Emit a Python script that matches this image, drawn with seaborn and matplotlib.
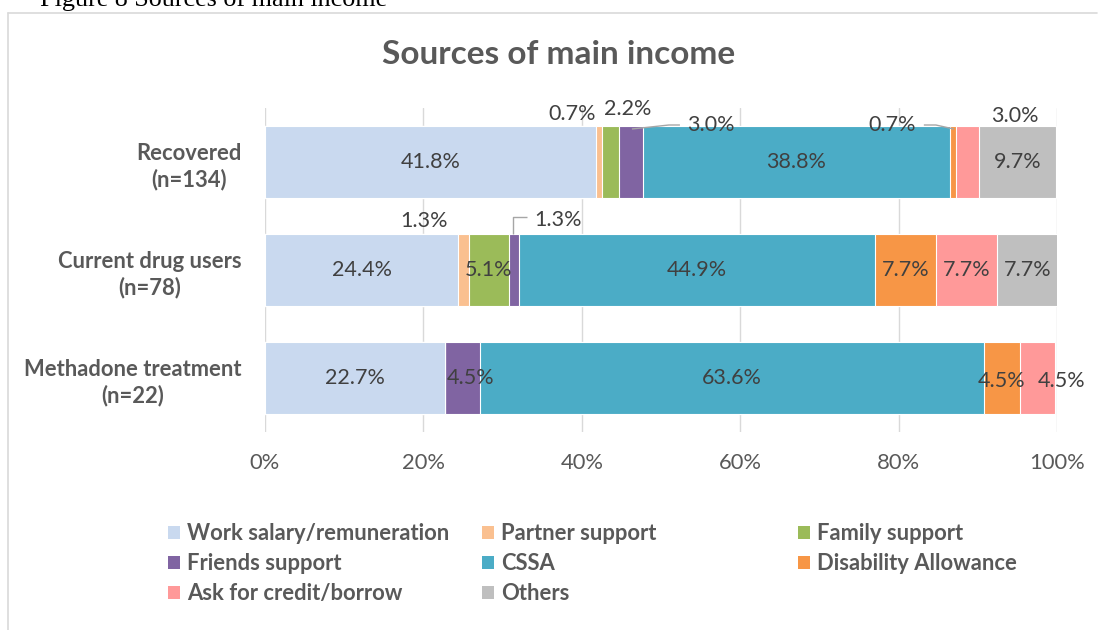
import matplotlib
matplotlib.use("Agg")
import matplotlib.pyplot as plt
from matplotlib.lines import Line2D
from matplotlib.patches import Patch
import numpy as np
import pandas as pd
import seaborn as sns

# ---- data -----------------------------------------------------------------
groups = ["Recovered\n(n=134)", "Current drug users\n(n=78)", "Methadone treatment\n(n=22)"]
sources = ["Work salary/remuneration", "Partner support", "Family support",
           "Friends support", "CSSA", "Disability Allowance",
           "Ask for credit/borrow", "Others"]
work = [41.8, 24.4, 22.7]
partner = [0.7, 1.3, 0.0]
family = [2.2, 5.1, 0.0]
friends = [3.0, 1.3, 4.5]
cssa = [38.8, 44.9, 63.6]
disability = [0.7, 7.7, 4.5]
borrow = [3.0, 7.7, 4.5]
others = [9.7, 7.7, 0.0]
x_ticks = [0, 20, 40, 60, 80, 100]
x_tick_labels = ["0%", "20%", "40%", "60%", "80%", "100%"]

colors = ["#C9D9EF", "#FAC090", "#9BBB59", "#8064A2",
          "#4BACC6", "#F79646", "#FF9999", "#BFBFBF"]

series = [work, partner, family, friends, cssa, disability, borrow, others]
df = pd.DataFrame(np.array(series).T, columns=sources)
df.insert(0, "group", groups)
cum = df[sources].cumsum(axis=1)

# ---- style ----------------------------------------------------------------
sns.set_theme(style="white")
plt.rcParams["font.family"] = ["Lato", "DejaVu Sans"]
TXT = "#595959"
LBL = "#404040"
GRID = "#D9D9D9"
FS = 15.8

W, H = 1098, 630
fig = plt.figure(figsize=(W / 100, H / 100), dpi=100)

ax_l, ax_r, ax_t, ax_b = 265, 1057, 108, 432
ax = fig.add_axes([ax_l / W, 1 - ax_b / H, (ax_r - ax_l) / W, (ax_b - ax_t) / H])

# stacked bars: draw cumulative totals from the outermost segment inwards
for i in range(len(sources) - 1, -1, -1):
    plot_df = pd.DataFrame({"group": groups, "total": cum[sources[i]].values})
    sns.barplot(data=plot_df, x="total", y="group", order=groups, orient="h",
                color=colors[i], saturation=1, width=0.66, errorbar=None,
                edgecolor="white", linewidth=0.8, ax=ax, zorder=3)

ax.set_xlim(0, 100)
ax.set_ylim(2.5, -0.5)
ax.set_xticks(x_ticks)
ax.set_xticklabels(x_tick_labels)
ax.set_xlabel("")
ax.set_ylabel("")
ax.grid(axis="x", color=GRID, linewidth=1, zorder=0)
ax.grid(axis="y", visible=False)
for s in ax.spines.values():
    s.set_visible(False)
ax.tick_params(axis="x", length=0, pad=15, labelsize=FS, labelcolor=TXT)
ax.tick_params(axis="y", length=0, pad=17, labelsize=FS, labelcolor=TXT)
for t in ax.get_yticklabels():
    t.set_fontweight("bold")
    t.set_multialignment("center")
    t.set_linespacing(1.3)

# pixel -> data conversion for label offsets
px_x = (ax_r - ax_l) / 100.0
px_y = (ax_b - ax_t) / 3.0

# label offsets (pixels, right/down) for small segments
offsets = {
    (0, 1): (-27, -48), (0, 2): (17, -53), (0, 3): (80, -37),
    (0, 5): (-61, -37), (0, 6): (47, -46),
    (1, 1): (-39, -49), (1, 3): (44, -50),
    (2, 3): (8, 0), (2, 5): (0, 3), (2, 6): (24, 3),
}
leaders = {
    (0, 3): [(1, -33), (38, -37), (49, -37)],
    (0, 5): [(-29, -37), (-17, -37), (1, -33)],
    (1, 3): [(-1, -36), (-1, -53), (13, -53)],
}

for r in range(len(groups)):
    start = 0.0
    for j, vals in enumerate(series):
        v = vals[r]
        if v > 0:
            cx = start + v / 2
            dx, dy = offsets.get((r, j), (0, 0))
            ax.text(cx + dx / px_x, r + dy / px_y, f"{v:.1f}%", ha="center",
                    va="center", fontsize=15.5, color=LBL, zorder=5)
            if (r, j) in leaders:
                pts = leaders[(r, j)]
                ax.plot([cx + p[0] / px_x for p in pts],
                        [r + p[1] / px_y for p in pts],
                        color="#A6A6A6", linewidth=1, zorder=4,
                        solid_capstyle="butt")
        start += v

# ---- title, caption, frame ---------------------------------------------------
fig.text(559 / W, 1 - 55 / H, "Sources of main income", ha="center", va="center",
         fontsize=24, fontweight="bold", color=TXT)
fig.text(40 / W, 1 - 6 / H, "Figure 8 Sources of main income", ha="left",
         va="baseline", fontsize=18.8, color="black", family="Liberation Serif")
fig.add_artist(Line2D([8 / W, 1097 / W], [1 - 12.5 / H, 1 - 12.5 / H],
                      color=GRID, linewidth=1.2))
fig.add_artist(Line2D([8 / W, 8 / W], [1 - 12.5 / H, 0], color=GRID, linewidth=1.2))

# ---- legend: three columns -----------------------------------------------------
col_x = [168, 482, 798]
col_items = [[0, 3, 6], [1, 4, 7], [2, 5]]
for cx_px, items in zip(col_x, col_items):
    handles = [Patch(facecolor=colors[k], edgecolor="none") for k in items]
    labels = [sources[k] for k in items]
    leg = fig.legend(handles, labels, loc="upper left",
                     bbox_to_anchor=(cx_px / W, 1 - 523 / H),
                     frameon=False, borderpad=0, borderaxespad=0,
                     handlelength=0.55, handleheight=0.55, handletextpad=0.3,
                     labelspacing=0.42, fontsize=FS)
    for t in leg.get_texts():
        t.set_color(TXT)
        t.set_fontweight("bold")

fig.savefig("out.png", dpi=100)
